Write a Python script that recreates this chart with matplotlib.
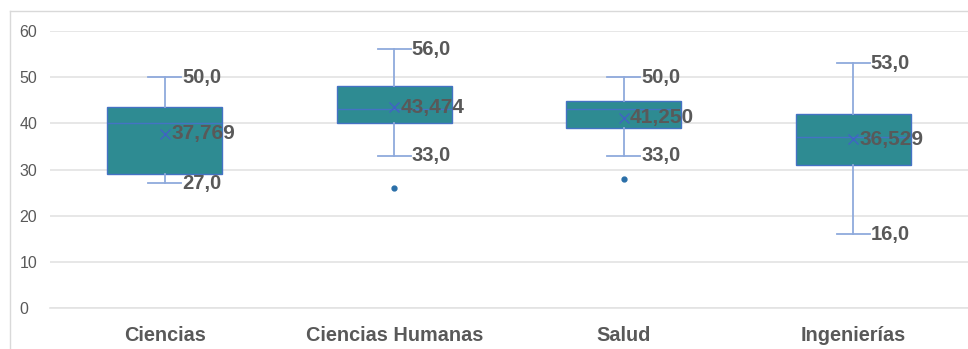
import matplotlib.pyplot as plt
from matplotlib.lines import Line2D

plt.rcParams['font.family'] = ['Liberation Sans', 'DejaVu Sans']

# box statistics per area
categories = ['Ciencias', 'Ciencias Humanas', 'Salud', 'Ingenierías']
whisker_low = [27.0, 33.0, 33.0, 16.0]
q1 = [29.0, 40.0, 39.0, 31.0]
medians = [40.0, 43.0, 43.0, 37.0]
q3 = [43.5, 48.0, 44.75, 42.0]
whisker_high = [50.0, 56.0, 50.0, 53.0]
means = [37.769, 43.474, 41.250, 36.529]
outliers = [[], [26.0], [28.0], []]

y_ticks = [0, 10, 20, 30, 40, 50, 60]

teal = '#2E8B92'
box_edge = '#4472C4'
whisker_col = '#8FAADC'
text_col = '#595959'

stats = []
for i in range(len(categories)):
    stats.append(dict(label=categories[i], whislo=whisker_low[i], q1=q1[i],
                      med=medians[i], q3=q3[i], whishi=whisker_high[i],
                      mean=means[i], fliers=outliers[i]))

fig = plt.figure(figsize=(9.68, 3.49), dpi=100)
ax = fig.add_axes([50 / 968, 41 / 349, 918 / 968, 277 / 349])

positions = list(range(len(categories)))
ax.bxp(stats, positions=positions, widths=0.5, capwidths=0.145,
       showmeans=True, patch_artist=True,
       boxprops=dict(facecolor=teal, edgecolor=box_edge, linewidth=1.0),
       medianprops=dict(color=box_edge, linewidth=1.0),
       whiskerprops=dict(color=whisker_col, linewidth=1.3),
       capprops=dict(color=whisker_col, linewidth=1.3),
       meanprops=dict(marker='x', markeredgecolor='#4063C4', markersize=7,
                      markeredgewidth=1.0),
       flierprops=dict(marker='o', markerfacecolor='#2A6FA8',
                       markeredgecolor='#2A6FA8', markersize=3.5))

label_font = dict(fontsize=14.5, fontweight='bold', color=text_col,
                  va='center', ha='left')
for i, x in enumerate(positions):
    for v in (whisker_high[i], whisker_low[i]):
        ax.annotate(f'{v:.1f}'.replace('.', ','), xy=(x, v),
                    xytext=(12.5, 0), textcoords='offset points', **label_font)
    ax.annotate(f'{means[i]:.3f}'.replace('.', ','), xy=(x, means[i]),
                xytext=(4.5, 0), textcoords='offset points', fontsize=15,
                **{k: val for k, val in label_font.items() if k != 'fontsize'})

ax.set_xlim(-0.5, len(categories) - 0.5)
ax.set_ylim(0, 60)
ax.set_yticks(y_ticks)
ax.yaxis.grid(True, color='#E3E3E3', linewidth=1.2)
ax.set_axisbelow(True)
for s in ['left', 'right', 'top']:
    ax.spines[s].set_visible(False)
ax.spines['bottom'].set_color('#E3E3E3')
ax.spines['bottom'].set_linewidth(1.2)
ax.tick_params(axis='both', length=0, colors=text_col)
ax.tick_params(axis='y', labelsize=11.5, pad=22)
ax.tick_params(axis='x', labelsize=14.3, pad=13)
for lbl in ax.get_xticklabels():
    lbl.set_fontweight('bold')
for lbl in ax.get_yticklabels():
    lbl.set_horizontalalignment('left')

# chart frame
fig.add_artist(Line2D([10 / 968, 1], [1 - 11 / 349] * 2, color='#D9D9D9', lw=1))
fig.add_artist(Line2D([10 / 968] * 2, [0, 1 - 11 / 349], color='#D9D9D9', lw=1))

fig.savefig('out.png', dpi=100)
